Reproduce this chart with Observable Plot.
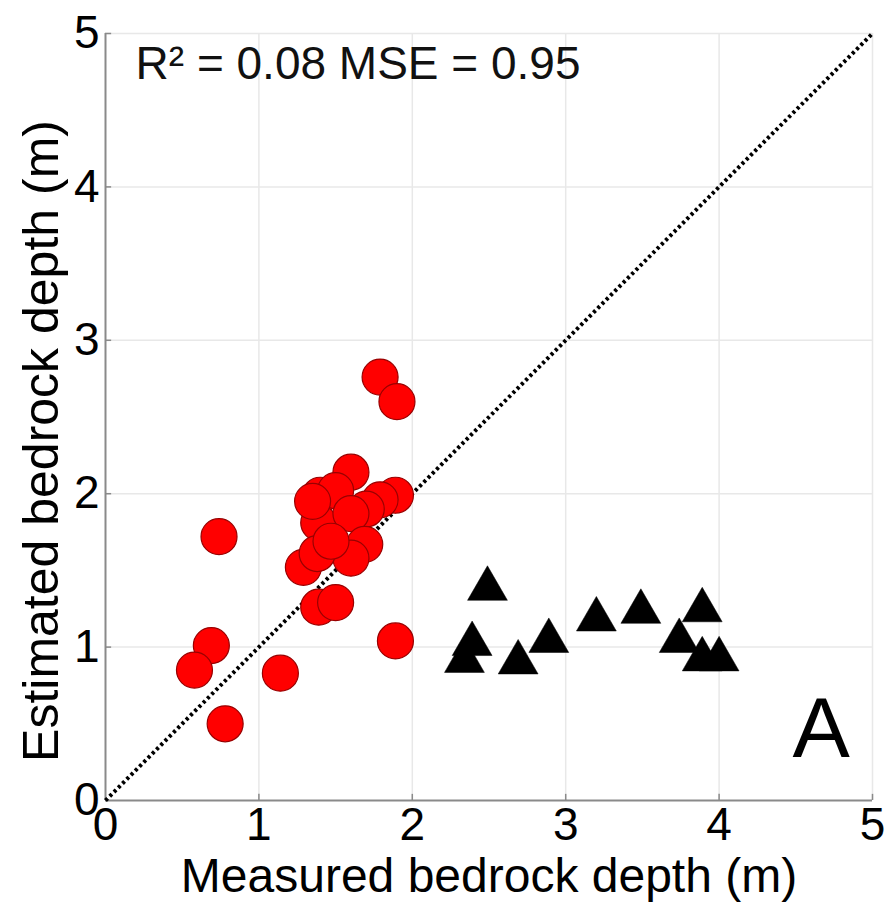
<!DOCTYPE html>
<html>
<head>
<meta charset="utf-8">
<script src="https://cdn.jsdelivr.net/npm/d3@7"></script>
<script src="https://cdn.jsdelivr.net/npm/@observablehq/plot@0.6"></script>
<style>
  html, body { margin: 0; padding: 0; background: #fff; }
  #chart svg { display: block; }
</style>
</head>
<body>
<div id="chart"></div>
<script>
// Red circles: measured vs estimated depth
const circleX = [1.79, 1.90, 0.74, 1.60, 1.40, 1.50, 1.89, 1.79, 1.70, 1.39, 1.60, 1.69, 1.60, 1.29, 1.38, 1.47, 1.39, 1.50, 1.89, 0.69, 0.58, 1.14, 0.78, 1.35];
const circleY = [2.76, 2.60, 1.72, 2.14, 1.99, 2.02, 1.99, 1.96, 1.90, 1.81, 1.87, 1.67, 1.58, 1.52, 1.61, 1.69, 1.26, 1.29, 1.04, 1.01, 0.85, 0.83, 0.50, 1.95];
// Black triangles
const triX = [2.49, 2.39, 2.34, 2.69, 2.89, 3.20, 3.49, 3.89, 3.74, 3.89, 4.00];
const triY = [1.38, 1.02, 0.91, 0.90, 1.04, 1.18, 1.23, 1.24, 1.04, 0.92, 0.92];
// Axes
const xTicks = [0, 1, 2, 3, 4, 5];
const yTicks = [0, 1, 2, 3, 4, 5];
const gridVals = [1, 2, 3, 4, 5];
const identity = [[0, 0], [5, 5]];
const statsText = ["R\u00B2 = 0.08 MSE = 0.95"];
const panelLabel = ["A"];
const xLabel = "Measured bedrock depth (m)";
const yLabel = "Estimated bedrock depth (m)";

const circles = circleX.map((x, i) => ({x, y: circleY[i]}));
const triangles = triX.map((x, i) => ({x, y: triY[i]}));
const font = "'Liberation Sans', Arial, Helvetica, sans-serif";

const chart = Plot.plot({
  width: 888,
  height: 912,
  marginLeft: 105,
  marginRight: 16,
  marginTop: 33,
  marginBottom: 112,
  style: {fontFamily: font, background: "#fff", color: "#000", overflow: "visible"},
  x: {domain: [0, 5]},
  y: {domain: [0, 5]},
  marks: [
    Plot.ruleX(gridVals, {stroke: "#e8e8e8", strokeWidth: 1.5}),
    Plot.ruleY(gridVals, {stroke: "#e8e8e8", strokeWidth: 1.5}),
    Plot.ruleX([0], {stroke: "#8a8a8a", strokeWidth: 2}),
    Plot.ruleY([0], {stroke: "#8a8a8a", strokeWidth: 2}),
    Plot.ruleX(xTicks.slice(1), {x: d => d, y1: 0, y2: 0.04, stroke: "#8a8a8a", strokeWidth: 1.5}),
    Plot.ruleY(yTicks.slice(1), {y: d => d, x1: 0, x2: 0.04, stroke: "#8a8a8a", strokeWidth: 1.5}),
    Plot.axisX(xTicks, {tickSize: 0, tickPadding: 7, fontSize: 46, label: null, tickFormat: d => String(d)}),
    Plot.axisY(yTicks, {tickSize: 0, tickPadding: 6, fontSize: 46, label: null, tickFormat: d => String(d)}),
    Plot.line(identity, {x: d => d[0], y: d => d[1], stroke: "#000", strokeWidth: 4, strokeDasharray: "3,3", strokeLinecap: "butt"}),
    Plot.dot(circles, {x: "x", y: "y", r: 18, fill: "#ff0000", stroke: "#990000", strokeWidth: 1.2, fillOpacity: 1}),
    Plot.dot(triangles, {x: "x", y: "y", symbol: "triangle", r: 14.8, fill: "#000", stroke: "#000", strokeWidth: 0.5}),
    Plot.text(statsText, {x: () => 0.196, y: () => 4.80, text: d => d, textAnchor: "start", fontSize: 46, fill: "#111"}),
    Plot.text(panelLabel, {x: () => 4.665, y: () => 0.46, text: d => d, textAnchor: "middle", fontSize: 86, fill: "#000"}),
    Plot.text([xLabel], {frameAnchor: "bottom", text: d => d, textAnchor: "middle", lineAnchor: "middle", dy: 76, fontSize: 48, fill: "#000"}),
    Plot.text([yLabel], {frameAnchor: "left", text: d => d, textAnchor: "middle", lineAnchor: "middle", rotate: -90, dx: -64, dy: 24, fontSize: 50, fill: "#000"})
  ]
});
document.getElementById("chart").appendChild(chart);
</script>
</body>
</html>
